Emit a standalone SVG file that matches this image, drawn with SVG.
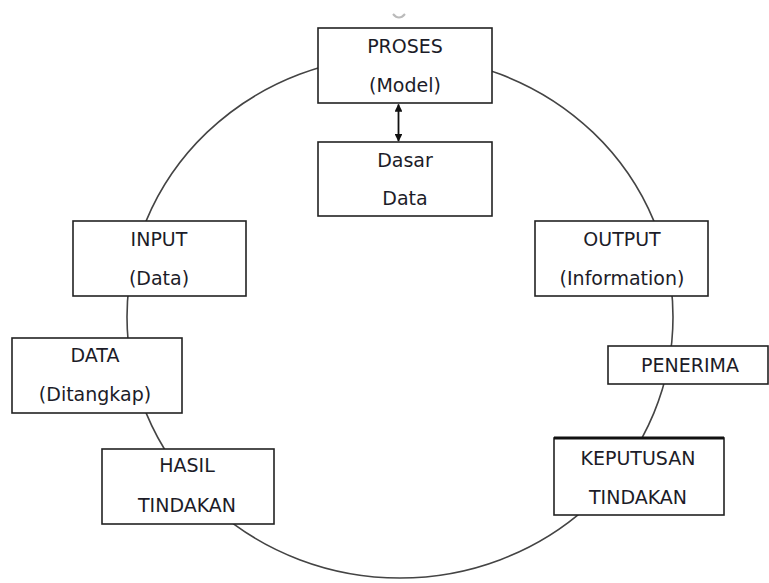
<svg xmlns="http://www.w3.org/2000/svg" width="769" height="583" viewBox="0 0 769 583">
<style>
.box{fill:#fff;stroke:#222;stroke-width:1.6}
.t{font-family:"DejaVu Sans","Liberation Sans",sans-serif;font-size:19px;fill:#1c1c28;text-anchor:middle}
.ring{fill:none;stroke:#444;stroke-width:1.6}
</style>
<defs>
<marker id="ah" viewBox="0 0 10 10" refX="9" refY="5" markerWidth="4.4" markerHeight="4.4" orient="auto-start-reverse">
<path d="M0,0 L10,5 L0,10 z" fill="#111"/>
</marker>
</defs>
<rect width="769" height="583" fill="#fff"/>
<path d="M393,14 Q399,21 405,14" fill="none" stroke="#bbb" stroke-width="2"/>
<g id="connectors">
<ellipse class="ring" cx="400" cy="317" rx="273" ry="261"/>
<line x1="398.5" y1="104.5" x2="398.5" y2="141" stroke="#111" stroke-width="1.8" marker-start="url(#ah)" marker-end="url(#ah)"/>
</g>
<g id="proses">
<rect class="box" x="318" y="28" width="174" height="75"/>
<text class="t" x="405" y="53">PROSES</text>
<text class="t" x="405" y="92">(Model)</text>
</g>
<g id="dasar-data">
<rect class="box" x="318" y="142" width="174" height="74"/>
<text class="t" x="405" y="167">Dasar</text>
<text class="t" x="405" y="205">Data</text>
</g>
<g id="input">
<rect class="box" x="73" y="221" width="173" height="75"/>
<text class="t" x="159" y="246">INPUT</text>
<text class="t" x="159" y="285">(Data)</text>
</g>
<g id="data-ditangkap">
<rect class="box" x="12" y="338" width="170" height="75"/>
<text class="t" x="95" y="362">DATA</text>
<text class="t" x="95" y="401">(Ditangkap)</text>
</g>
<g id="hasil-tindakan">
<rect class="box" x="102" y="449" width="172" height="75"/>
<text class="t" x="187" y="472">HASIL</text>
<text class="t" x="187" y="512">TINDAKAN</text>
</g>
<g id="output">
<rect class="box" x="535" y="221" width="173" height="75"/>
<text class="t" x="622" y="246">OUTPUT</text>
<text class="t" x="622" y="285">(Information)</text>
</g>
<g id="penerima">
<rect class="box" x="608" y="346" width="160" height="38"/>
<text class="t" x="690" y="372">PENERIMA</text>
</g>
<g id="keputusan-tindakan">
<rect class="box" x="554" y="438" width="170" height="77"/>
<line x1="554" y1="438" x2="724" y2="438" stroke="#111" stroke-width="3"/>
<text class="t" x="638" y="465">KEPUTUSAN</text>
<text class="t" x="638" y="504">TINDAKAN</text>
</g>
</svg>
